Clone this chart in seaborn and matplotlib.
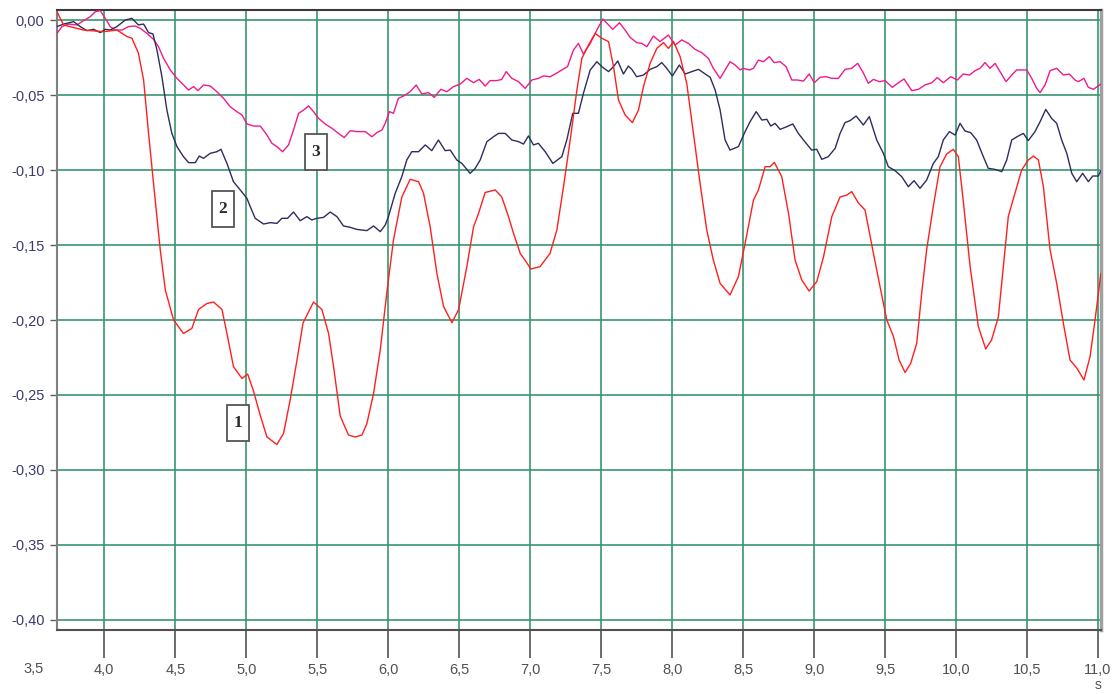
import matplotlib
matplotlib.use("Agg")
import matplotlib.pyplot as plt
import matplotlib.transforms as mtransforms
from matplotlib.patches import Rectangle
import seaborn as sns
import pandas as pd

# ---- data ----
curve1_x = [3.667, 3.713, 3.854, 3.995, 4.089, 4.16, 4.195, 4.24, 4.277, 4.312, 4.347, 4.394, 4.43, 4.488,
            4.558, 4.617, 4.664, 4.723, 4.77, 4.829, 4.864, 4.91, 4.97, 5.01, 5.05, 5.10, 5.146, 5.216, 5.263,
            5.31, 5.357, 5.40, 5.474, 5.533, 5.58, 5.615, 5.662, 5.72, 5.768, 5.815, 5.85, 5.897, 5.944, 5.99,
            6.037, 6.096, 6.155, 6.214, 6.249, 6.296, 6.343, 6.39, 6.449, 6.496, 6.554, 6.601, 6.636, 6.683,
            6.754, 6.80, 6.847, 6.882, 6.93, 6.977, 7.005, 7.07, 7.14, 7.188, 7.235, 7.282, 7.329, 7.364, 7.411,
            7.458, 7.505, 7.552, 7.587, 7.622, 7.669, 7.72, 7.763, 7.798, 7.845, 7.892, 7.939, 7.974, 8.01,
            8.056, 8.103, 8.15, 8.197, 8.244, 8.29, 8.338, 8.408, 8.467, 8.514, 8.573, 8.608, 8.655, 8.69, 8.72,
            8.772, 8.82, 8.866, 8.913, 8.965, 9.019, 9.066, 9.125, 9.183, 9.23, 9.265, 9.312, 9.359, 9.418,
            9.465, 9.512, 9.559, 9.599, 9.641, 9.68, 9.723, 9.758, 9.793, 9.84, 9.887, 9.934, 9.981, 10.016,
            10.05, 10.099, 10.157, 10.209, 10.25, 10.298, 10.333, 10.368, 10.415, 10.462, 10.509, 10.545, 10.58,
            10.615, 10.662, 10.709, 10.756, 10.803, 10.85, 10.901, 10.944, 10.979, 11.02]
curve1_y = [0.0055, -0.0033, -0.0067, -0.0078, -0.0067, -0.011, -0.0122, -0.022, -0.04, -0.0756, -0.109,
            -0.153, -0.18, -0.2, -0.209, -0.2056, -0.193, -0.189, -0.188, -0.193, -0.209, -0.231, -0.239,
            -0.236, -0.247, -0.264, -0.278, -0.283, -0.2756, -0.253, -0.227, -0.202, -0.188, -0.193, -0.209,
            -0.231, -0.264, -0.2767, -0.278, -0.2767, -0.269, -0.249, -0.22, -0.182, -0.1467, -0.118, -0.1062,
            -0.1078, -0.1156, -0.138, -0.169, -0.191, -0.2018, -0.193, -0.1644, -0.138, -0.129, -0.115,
            -0.1133, -0.118, -0.131, -0.142, -0.1556, -0.162, -0.166, -0.1644, -0.1556, -0.14, -0.111, -0.08,
            -0.0467, -0.0256, -0.0167, -0.0089, -0.0122, -0.0144, -0.031, -0.0533, -0.0633, -0.0684, -0.06,
            -0.0444, -0.0289, -0.0189, -0.0151, -0.0189, -0.0144, -0.0244, -0.0422, -0.0756, -0.109, -0.14,
            -0.16, -0.1756, -0.1833, -0.171, -0.149, -0.12, -0.1133, -0.0978, -0.0978, -0.0949, -0.1044,
            -0.129, -0.16, -0.1733, -0.1807, -0.1744, -0.158, -0.131, -0.118, -0.1167, -0.1144, -0.122,
            -0.1267, -0.1556, -0.178, -0.2, -0.211, -0.2267, -0.235, -0.229, -0.2156, -0.182, -0.153, -0.124,
            -0.0978, -0.0893, -0.0862, -0.0911, -0.12, -0.1644, -0.2044, -0.2193, -0.2133, -0.198, -0.1644,
            -0.131, -0.1156, -0.1, -0.0933, -0.0907, -0.0933, -0.111, -0.153, -0.1756, -0.2022, -0.2267,
            -0.232, -0.24, -0.2244, -0.2, -0.169]

curve2_x = [3.667, 3.713, 3.784, 3.831, 3.878, 3.925, 3.972, 4.007, 4.042, 4.089, 4.148, 4.195, 4.24, 4.277,
            4.312, 4.343, 4.371, 4.406, 4.441, 4.476, 4.512, 4.558, 4.594, 4.641, 4.669, 4.699, 4.746, 4.793,
            4.822, 4.864, 4.91, 4.958, 5.005, 5.028, 5.063, 5.122, 5.169, 5.216, 5.251, 5.291, 5.333, 5.38,
            5.427, 5.462, 5.498, 5.544, 5.592, 5.639, 5.685, 5.732, 5.779, 5.85, 5.897, 5.944, 5.979, 6.002,
            6.049, 6.096, 6.131, 6.166, 6.214, 6.261, 6.307, 6.354, 6.401, 6.437, 6.483, 6.519, 6.577, 6.613,
            6.648, 6.695, 6.742, 6.777, 6.824, 6.871, 6.918, 6.953, 6.988, 7.023, 7.058, 7.106, 7.16, 7.223,
            7.258, 7.30, 7.34, 7.375, 7.423, 7.47, 7.505, 7.552, 7.587, 7.617, 7.657, 7.692, 7.716, 7.75, 7.798,
            7.845, 7.892, 7.927, 7.962, 8.002, 8.051, 8.092, 8.139, 8.186, 8.233, 8.268, 8.303, 8.338, 8.373,
            8.408, 8.467, 8.514, 8.549, 8.592, 8.632, 8.667, 8.695, 8.725, 8.761, 8.808, 8.85, 8.889, 8.925,
            8.983, 9.019, 9.054, 9.10, 9.148, 9.183, 9.218, 9.253, 9.296, 9.347, 9.389, 9.441, 9.488, 9.523,
            9.57, 9.617, 9.664, 9.704, 9.746, 9.793, 9.84, 9.875, 9.91, 9.953, 9.993, 10.028, 10.063, 10.103,
            10.145, 10.192, 10.227, 10.275, 10.322, 10.357, 10.392, 10.439, 10.474, 10.509, 10.556, 10.592,
            10.632, 10.673, 10.709, 10.744, 10.78, 10.815, 10.85, 10.892, 10.932, 10.963, 11.002, 11.02]
curve2_y = [-0.0044, -0.0027, -0.0011, -0.0044, -0.0071, -0.0062, -0.0084, -0.0062, -0.0067, -0.0044, 0.0,
            0.0011, -0.0033, -0.0027, -0.0084, -0.0093, -0.02, -0.0378, -0.06, -0.0756, -0.0844, -0.0911,
            -0.0951, -0.0951, -0.0907, -0.0922, -0.0889, -0.0878, -0.0862, -0.0956, -0.1078, -0.1133, -0.1189,
            -0.1244, -0.1322, -0.136, -0.1351, -0.1356, -0.1322, -0.1322, -0.128, -0.1338, -0.1311, -0.1333,
            -0.1322, -0.1316, -0.128, -0.1311, -0.1373, -0.1382, -0.1396, -0.1404, -0.1373, -0.1411, -0.1367,
            -0.131, -0.1156, -0.1044, -0.0933, -0.0878, -0.0878, -0.0833, -0.0871, -0.08, -0.0871, -0.0867,
            -0.0933, -0.0956, -0.1022, -0.0989, -0.0933, -0.0811, -0.0778, -0.0756, -0.0756, -0.08, -0.0811,
            -0.0827, -0.0773, -0.0833, -0.0822, -0.0878, -0.0956, -0.0911, -0.08, -0.0622, -0.0622, -0.0489,
            -0.0333, -0.0278, -0.0311, -0.0344, -0.0311, -0.0273, -0.036, -0.0307, -0.0329, -0.0378, -0.0367,
            -0.0329, -0.0311, -0.0284, -0.0322, -0.0373, -0.03, -0.036, -0.0344, -0.0329, -0.036, -0.0382,
            -0.0467, -0.06, -0.08, -0.0867, -0.0844, -0.0744, -0.0678, -0.0611, -0.0667, -0.0662, -0.0707,
            -0.0689, -0.0729, -0.0711, -0.0693, -0.0756, -0.08, -0.0867, -0.0862, -0.0929, -0.0911, -0.0856,
            -0.0756, -0.0684, -0.0671, -0.064, -0.07, -0.0644, -0.08, -0.0889, -0.0978, -0.1004, -0.1044,
            -0.1111, -0.1071, -0.1122, -0.1067, -0.0956, -0.0911, -0.08, -0.0744, -0.0767, -0.0689, -0.074,
            -0.0751, -0.08, -0.0911, -0.0989, -0.0996, -0.1011, -0.0933, -0.08, -0.0773, -0.0756, -0.0804,
            -0.0744, -0.0678, -0.0596, -0.0656, -0.0689, -0.08, -0.0889, -0.1022, -0.1078, -0.1022, -0.1078,
            -0.104, -0.104, -0.1004]

curve3_x = [3.667, 3.702, 3.749, 3.808, 3.854, 3.901, 3.937, 3.972, 4.007, 4.042, 4.077, 4.125, 4.171, 4.218,
            4.254, 4.30, 4.347, 4.382, 4.418, 4.465, 4.512, 4.558, 4.594, 4.629, 4.66, 4.699, 4.746, 4.793,
            4.84, 4.887, 4.934, 4.97, 5.005, 5.052, 5.099, 5.146, 5.181, 5.216, 5.256, 5.298, 5.333, 5.369,
            5.404, 5.439, 5.474, 5.51, 5.556, 5.604, 5.65, 5.69, 5.732, 5.779, 5.838, 5.885, 5.92, 5.956,
            5.979, 6.009, 6.037, 6.072, 6.108, 6.155, 6.197, 6.237, 6.284, 6.324, 6.371, 6.413, 6.46, 6.507,
            6.554, 6.601, 6.641, 6.683, 6.718, 6.765, 6.80, 6.831, 6.871, 6.918, 6.965, 7.012, 7.058, 7.094,
            7.141, 7.176, 7.223, 7.263, 7.305, 7.34, 7.375, 7.423, 7.47, 7.512, 7.547, 7.582, 7.629, 7.669,
            7.704, 7.751, 7.786, 7.822, 7.868, 7.915, 7.974, 8.021, 8.068, 8.115, 8.162, 8.209, 8.256, 8.29,
            8.338, 8.373, 8.408, 8.444, 8.479, 8.50, 8.544, 8.573, 8.608, 8.643, 8.685, 8.718, 8.761, 8.803,
            8.843, 8.882, 8.925, 8.965, 9.002, 9.042, 9.085, 9.125, 9.171, 9.218, 9.265, 9.307, 9.342, 9.382,
            9.418, 9.46, 9.50, 9.551, 9.594, 9.634, 9.688, 9.735, 9.782, 9.829, 9.868, 9.91, 9.962, 10.009,
            10.051, 10.094, 10.134, 10.169, 10.204, 10.239, 10.275, 10.31, 10.352, 10.392, 10.427, 10.498,
            10.533, 10.568, 10.592, 10.627, 10.662, 10.709, 10.756, 10.798, 10.838, 10.862, 10.901, 10.932,
            10.968, 11.02]
curve3_y = [-0.0089, -0.0044, -0.0027, -0.0033, -0.0004, 0.0022, 0.0056, 0.0062, 0.0011, -0.0044, -0.0067,
            -0.0067, -0.0044, -0.004, -0.0056, -0.0089, -0.0129, -0.0178, -0.0256, -0.0333, -0.0389, -0.0433,
            -0.0467, -0.0444, -0.0471, -0.0433, -0.044, -0.0478, -0.0522, -0.0578, -0.0611, -0.0633, -0.0693,
            -0.0707, -0.0707, -0.0767, -0.0822, -0.0844, -0.0878, -0.0833, -0.0733, -0.0622, -0.06, -0.0573,
            -0.0611, -0.0656, -0.0693, -0.0722, -0.0756, -0.0784, -0.0738, -0.0744, -0.0744, -0.0778, -0.0751,
            -0.0733, -0.0689, -0.0611, -0.0622, -0.0522, -0.0507, -0.0478, -0.0433, -0.0493, -0.0484, -0.0516,
            -0.0462, -0.0478, -0.0444, -0.0427, -0.0389, -0.0418, -0.0396, -0.044, -0.0404, -0.0404, -0.0396,
            -0.0344, -0.0389, -0.0411, -0.0456, -0.04, -0.0389, -0.0373, -0.0378, -0.036, -0.0333, -0.0311,
            -0.02, -0.0156, -0.0227, -0.0156, -0.0067, 0.0007, -0.0027, -0.0062, -0.0018, -0.0067, -0.0116,
            -0.0151, -0.0156, -0.0178, -0.0107, -0.0144, -0.01, -0.0167, -0.0133, -0.0156, -0.0196, -0.0218,
            -0.0256, -0.0322, -0.0389, -0.0333, -0.0278, -0.03, -0.0333, -0.0322, -0.0333, -0.0322, -0.0267,
            -0.0278, -0.0244, -0.0284, -0.0278, -0.0311, -0.04, -0.04, -0.0407, -0.036, -0.0418, -0.0382,
            -0.0378, -0.0389, -0.0389, -0.0329, -0.0322, -0.0289, -0.0344, -0.0422, -0.0396, -0.0411, -0.0404,
            -0.0449, -0.0418, -0.0393, -0.0471, -0.0462, -0.0433, -0.0418, -0.0384, -0.0418, -0.0378, -0.04,
            -0.036, -0.0367, -0.0338, -0.0322, -0.0284, -0.0322, -0.0289, -0.0344, -0.0411, -0.0367, -0.0333,
            -0.0333, -0.0389, -0.0456, -0.0484, -0.0433, -0.0338, -0.0322, -0.0367, -0.036, -0.04, -0.0411,
            -0.0389, -0.0449, -0.0462, -0.0427]

x_ticks = [4.0, 4.5, 5.0, 5.5, 6.0, 6.5, 7.0, 7.5, 8.0, 8.5, 9.0, 9.5, 10.0, 10.5, 11.0]
x_tick_labels = ["4,0", "4,5", "5,0", "5,5", "6,0", "6,5", "7,0", "7,5", "8,0", "8,5", "9,0", "9,5",
                 "10,0", "10,5", "11,0"]
x_first_label_pos = 3.5
x_first_label = "3,5"
x_unit = "s"
y_ticks = [0.0, -0.05, -0.10, -0.15, -0.20, -0.25, -0.30, -0.35, -0.40]
y_tick_labels = ["0,00", "-0,05", "-0,10", "-0,15", "-0,20", "-0,25", "-0,30", "-0,35", "-0,40"]
curve_labels = ["1", "2", "3"]
label_pos_x = [4.94, 4.834, 5.489]
label_pos_y = [-0.269, -0.126, -0.0882]

# ---- styling ----
sns.set_style("white")
plt.rcParams["font.family"] = ["Liberation Sans", "DejaVu Sans"]

fig = plt.figure(figsize=(11.2, 6.94), dpi=100)
ax = fig.add_axes([57 / 1120, 1 - 630 / 694, (1101 - 57) / 1120, 620 / 694])

grid_col = "#3a9670"
for xv in x_ticks:
    ax.axvline(xv, color=grid_col, lw=1.2, zorder=1)
for yv in y_ticks:
    ax.axhline(yv, color=grid_col, lw=1.2, zorder=1)

colors = ["#ff1f1f", "#2d2d5f", "#f01a8c"]
for xs, ys, c in [(curve3_x, curve3_y, colors[2]), (curve2_x, curve2_y, colors[1]), (curve1_x, curve1_y, colors[0])]:
    df = pd.DataFrame({"t": xs, "v": ys})
    sns.lineplot(data=df, x="t", y="v", ax=ax, color=c, lw=1.0, estimator=None, sort=False, zorder=3)

ax.set_xlim(3.667, 11.021)
ax.set_ylim(-0.40667, 0.00667)
ax.set_xlabel("")
ax.set_ylabel("")

ax.set_xticks(x_ticks)
ax.set_xticklabels(x_tick_labels, color="#505050", fontsize=10.5)
ax.set_yticks(y_ticks)
ax.set_yticklabels(y_tick_labels, color="#3b3b6e", fontsize=10.5)
ax.tick_params(axis="x", direction="out", length=20, width=1.3, color="#606060", pad=4, bottom=True)
ax.tick_params(axis="y", direction="out", length=5, width=1.0, color="#606060", pad=4, left=True)

for side, col, w in [("top", "#3a3a3a", 1.5), ("bottom", "#505050", 1.5), ("left", "#808080", 1.5), ("right", "#a0a0a0", 2.5)]:
    ax.spines[side].set_visible(True)
    ax.spines[side].set_color(col)
    ax.spines[side].set_linewidth(w)

trans = mtransforms.blended_transform_factory(ax.transData, ax.transAxes)
ax.text(x_first_label_pos, -39 / 620, x_first_label, transform=trans, ha="center", va="center",
        color="#505050", fontsize=10.5, clip_on=False)
ax.text(x_ticks[-1], -55 / 620, x_unit, transform=trans, ha="center", va="center",
        color="#505050", fontsize=10, clip_on=False)

for lab, lx, ly in zip(curve_labels, label_pos_x, label_pos_y):
    box_tr = fig.dpi_scale_trans + mtransforms.ScaledTranslation(lx, ly, ax.transData)
    ax.add_patch(Rectangle((-0.11, -0.18), 0.22, 0.36, transform=box_tr, fc="white", ec="#555555",
                           lw=1.3, zorder=5, clip_on=False))
    ax.text(lx, ly, lab, ha="center", va="center", fontsize=12.5, fontweight="bold",
            family=["Liberation Serif", "DejaVu Serif"], color="#2a2a2a", zorder=6)

fig.savefig("out.png", dpi=100)
